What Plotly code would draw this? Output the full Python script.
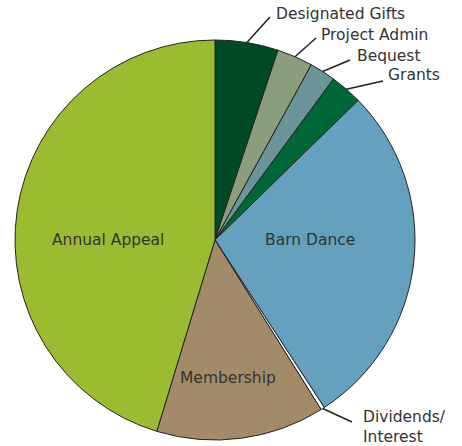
import math
import plotly.graph_objects as go

labels = ["Designated Gifts", "Project Admin", "Bequest", "Grants", "Barn Dance",
          "Dividends/Interest", "Membership", "Annual Appeal"]
values = [5.1, 2.9, 2.1, 2.6, 28.1, 0.3, 13.6, 45.3]
colors = ["#004A25", "#8A9D7D", "#6A9498", "#006837", "#65A1BF",
          "#FFFFFF", "#A38B69", "#9BBB30"]

W, H = 462, 446
CX, CY, R = 215, 240, 200

fig = go.Figure(go.Pie(
    labels=labels, values=values, sort=False, direction="clockwise", rotation=0,
    marker=dict(colors=colors, line=dict(color="#222222", width=1)),
    textinfo="none", hoverinfo="label+percent", showlegend=False,
    domain=dict(x=[(CX - R) / W, (CX + R) / W], y=[(H - CY - R) / H, (H - CY + R) / H]),
))

def px(x, y):
    return x / W, 1 - y / H

font = dict(family="DejaVu Sans, Verdana, sans-serif", size=15.5, color="#333333")

# inside labels
inside = {"Annual Appeal": (108, 240), "Barn Dance": (310, 240), "Membership": (228, 378)}
for name, (x, y) in inside.items():
    xp, yp = px(x, y)
    fig.add_annotation(x=xp, y=yp, xref="paper", yref="paper", text=name,
                       showarrow=False, font=font, xanchor="center", yanchor="middle")

# outside labels with leader lines from slice mid-angle on the edge
outside = {
    "Designated Gifts": ((270, 17), (274, 14), "Designated Gifts"),
    "Project Admin": ((316, 38), (319, 35), "Project Admin"),
    "Bequest": ((350, 60), (355, 56), "Bequest"),
    "Grants": ((383, 81), (386, 75), "Grants"),
    "Dividends/Interest": ((352, 422), (361, 427), "Dividends/<br>Interest"),
}
total = sum(values)
cum = 0
mids = {}
for lab, v in zip(labels, values):
    mids[lab] = (cum + v / 2) / total * 360
    cum += v

for lab, (end, tpos, txt) in outside.items():
    a = math.radians(mids[lab])
    sx, sy = CX + R * math.sin(a), CY - R * math.cos(a)
    x0, y0 = px(sx, sy)
    x1, y1 = px(*end)
    fig.add_shape(type="line", xref="paper", yref="paper", x0=x0, y0=y0, x1=x1, y1=y1,
                  line=dict(color="#222222", width=1.5))
    tx, ty = px(*tpos)
    fig.add_annotation(x=tx, y=ty, xref="paper", yref="paper", text=txt, showarrow=False,
                       font=font, xanchor="left", yanchor="middle", align="left")

fig.update_layout(width=W, height=H, margin=dict(l=0, r=0, t=0, b=0),
                  paper_bgcolor="white", plot_bgcolor="white")
fig.write_html("out.html", config={"displayModeBar": False},
               post_script="document.body.style.margin='0';")
